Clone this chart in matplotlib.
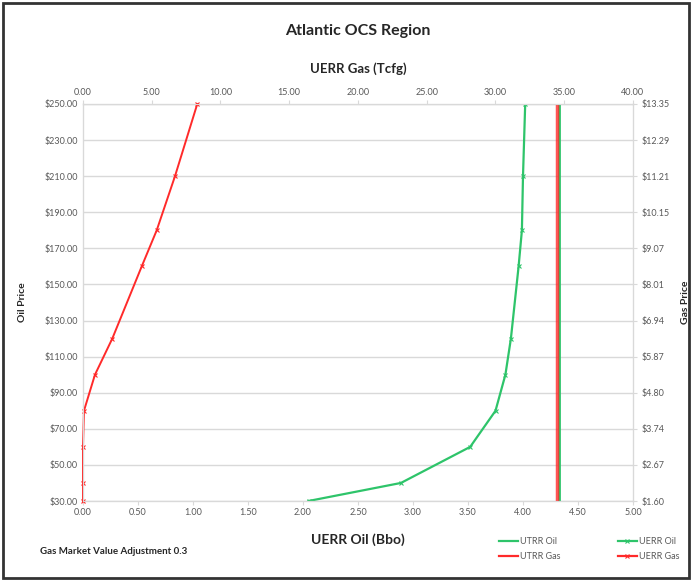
import matplotlib.pyplot as plt
from matplotlib.lines import Line2D
from matplotlib.patches import Rectangle

plt.rcParams['font.family'] = ['Lato', 'DejaVu Sans']

# oil price scenarios ($/bbl) and the matching gas price labels
oil_price = [30, 40, 60, 80, 100, 120, 160, 180, 210, 250]
price_ticks = [30, 50, 70, 90, 110, 130, 150, 170, 190, 210, 230, 250]
gas_price_labels = ['$1.60', '$2.67', '$3.74', '$4.80', '$5.87', '$6.94',
                    '$8.01', '$9.07', '$10.15', '$11.21', '$12.29', '$13.35']

# economically recoverable resources at each price
uerr_oil = [2.05, 2.89, 3.52, 3.75, 3.84, 3.89, 3.96, 3.99, 4.00, 4.02]   # Bbo
uerr_gas = [0.0, 0.0, 0.0, 0.07, 0.87, 2.13, 4.27, 5.36, 6.69, 8.31]      # Tcfg

# technically recoverable (constant)
utrr_oil = 4.33
utrr_gas = 34.45

green = '#2EC46A'
red = '#FF2A2A'
grid_c = '#D9D9D9'
txt_c = '#595959'

fig = plt.figure(figsize=(6.94, 5.81), dpi=100)
ax = fig.add_axes([83 / 694, 1 - 501 / 581, 550 / 694, 397 / 581])

ax.plot([utrr_oil] * 2, [30, 250], color=green, lw=2, zorder=4)
ax.plot(uerr_oil, oil_price, color=green, lw=1.6, marker='x', ms=3.5, mew=0.8, zorder=4)
ax.set_xlim(0, 5)
ax.set_ylim(30, 250)
ax.set_xticks([i * 0.5 for i in range(11)])
ax.set_xticklabels(['%.2f' % (i * 0.5) for i in range(11)])
ax.set_yticks(price_ticks)
ax.set_yticklabels(['$%.2f' % p for p in price_ticks])
ax.grid(axis='y', color=grid_c, lw=1)
ax.set_axisbelow(True)

ax_gas = ax.twiny()
ax_gas.plot([utrr_gas] * 2, [30, 250], color=red, lw=2.5, alpha=0.8, zorder=3)
ax_gas.plot(uerr_gas, oil_price, color=red, lw=1.4, marker='x', ms=3.5, mew=0.8,
            clip_on=False, zorder=5)
ax_gas.set_xlim(0, 40)
ax_gas.set_xticks(range(0, 41, 5))
ax_gas.set_xticklabels(['%.2f' % v for v in range(0, 41, 5)])

ax_r = ax.twinx()
ax_r.set_ylim(30, 250)
ax_r.set_yticks(price_ticks)
ax_r.set_yticklabels(gas_price_labels)

for a in (ax, ax_gas, ax_r):
    for s in a.spines.values():
        s.set_color(grid_c)
        s.set_zorder(0)
    a.tick_params(colors=grid_c, labelcolor=txt_c, labelsize=6.5, length=3, width=0.8)
ax.tick_params(axis='y', length=0)
ax.tick_params(axis='x', pad=2)
ax_gas.tick_params(axis='x', pad=2)

ax.set_xlabel('UERR Oil (Bbo)', fontsize=10, fontweight='bold', color='#262626', labelpad=12)
ax_gas.set_xlabel('UERR Gas (Tcfg)', fontsize=9.5, fontweight='bold', color='#262626', labelpad=11)
ax.set_ylabel('Oil Price', fontsize=7.5, fontweight='bold', color='#262626', labelpad=13)
ax_r.set_ylabel('Gas Price', fontsize=7.5, fontweight='bold', color='#262626', labelpad=8)

fig.text(358 / 694, 1 - 31 / 581, 'Atlantic OCS Region', ha='center', va='center',
         fontsize=11.5, fontweight='bold', color='#262626')
fig.text(40 / 694, 1 - 552 / 581, 'Gas Market Value Adjustment 0.3', ha='left', va='center',
         fontsize=7, fontweight='bold', color='#262626')

handles = [
    Line2D([], [], color=green, lw=1.6),
    Line2D([], [], color=red, lw=1.6),
    Line2D([], [], color=green, lw=1.6, marker='x', ms=3.5, mew=0.8),
    Line2D([], [], color=red, lw=1.6, marker='x', ms=3.5, mew=0.8),
]
labels = ['UTRR Oil', 'UTRR Gas', 'UERR Oil', 'UERR Gas']
fig.legend(handles, labels, ncol=2, loc='center left', bbox_to_anchor=(494 / 694, 1 - 549 / 581),
           frameon=False, fontsize=6.5, labelcolor=txt_c, handlelength=2.2, handletextpad=0.2,
           columnspacing=6.3, labelspacing=0.6, borderpad=0)

fig.patches.append(Rectangle((3 / 694, 3 / 581), 686 / 694, 575 / 581, transform=fig.transFigure,
                             fill=False, edgecolor='#333333', lw=2))

fig.savefig('out.png', dpi=100)
